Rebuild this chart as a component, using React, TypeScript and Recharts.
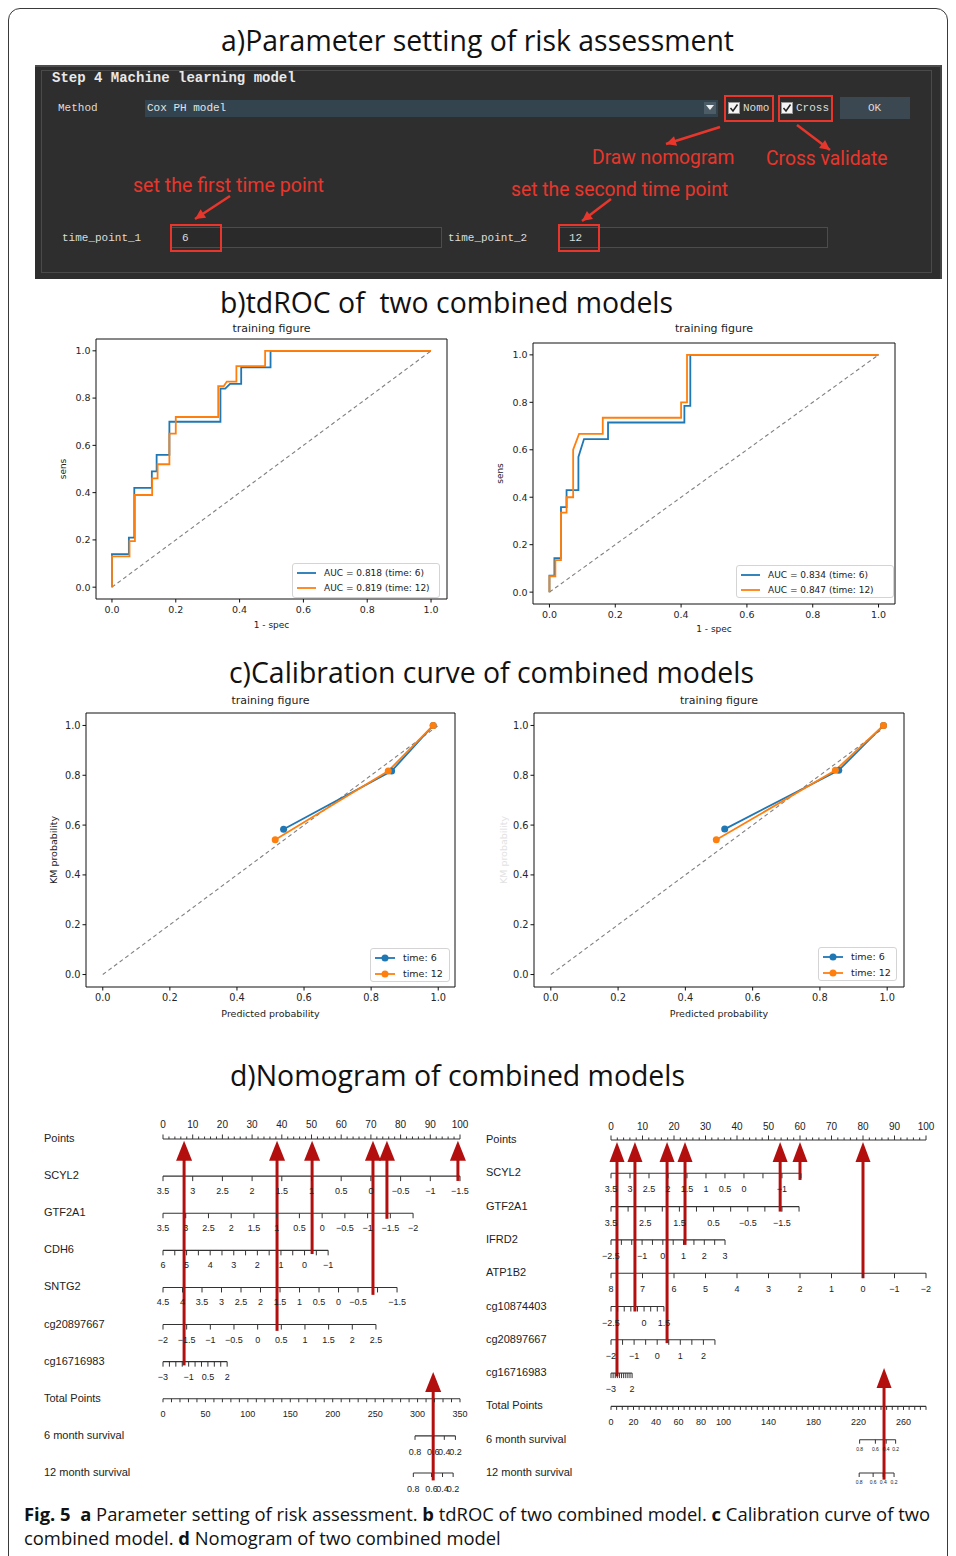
import React from "react";
import { ComposedChart, LineChart, Line, Scatter, XAxis, YAxis, Legend, ReferenceLine } from "recharts";

// ---------- b) tdROC, corners of the step curves as [1 - spec, sens] ----------
const rocLeftTime6 = [[0, 0], [0, 0.14], [0.053, 0.14], [0.053, 0.21], [0.07, 0.21], [0.07, 0.42], [0.125, 0.42], [0.125, 0.49], [0.14, 0.49], [0.14, 0.56], [0.18, 0.56], [0.18, 0.7], [0.34, 0.7], [0.34, 0.84], [0.355, 0.84], [0.37, 0.86], [0.405, 0.86], [0.405, 0.93], [0.497, 0.93], [0.497, 1], [1, 1]];
const rocLeftTime12 = [[0, 0], [0, 0.13], [0.055, 0.13], [0.055, 0.195], [0.072, 0.195], [0.072, 0.39], [0.126, 0.39], [0.126, 0.46], [0.143, 0.46], [0.143, 0.52], [0.18, 0.52], [0.18, 0.65], [0.2, 0.65], [0.2, 0.72], [0.333, 0.72], [0.333, 0.85], [0.35, 0.85], [0.36, 0.87], [0.39, 0.87], [0.39, 0.935], [0.48, 0.935], [0.48, 1], [1, 1]];
const rocRightTime6 = [[0, 0], [0, 0.07], [0.015, 0.07], [0.015, 0.143], [0.035, 0.143], [0.035, 0.358], [0.052, 0.358], [0.052, 0.43], [0.088, 0.43], [0.088, 0.57], [0.105, 0.645], [0.178, 0.645], [0.178, 0.715], [0.41, 0.715], [0.41, 0.785], [0.428, 0.785], [0.428, 1], [1, 1]];
const rocRightTime12 = [[0, 0], [0, 0.067], [0.018, 0.067], [0.018, 0.135], [0.035, 0.135], [0.035, 0.335], [0.052, 0.335], [0.052, 0.4], [0.072, 0.4], [0.072, 0.6], [0.09, 0.667], [0.162, 0.667], [0.162, 0.735], [0.4, 0.735], [0.4, 0.8], [0.418, 0.8], [0.418, 1], [1, 1]];
const rocLeftAuc = ["AUC = 0.818 (time: 6)", "AUC = 0.819 (time: 12)"];
const rocRightAuc = ["AUC = 0.834 (time: 6)", "AUC = 0.847 (time: 12)"];

// ---------- c) calibration, [predicted, KM] ----------
const calLeftTime6 = [[0.539, 0.583], [0.861, 0.817], [0.985, 1]];
const calLeftTime12 = [[0.514, 0.541], [0.851, 0.817], [0.985, 1]];
const calRightTime6 = [[0.517, 0.584], [0.856, 0.82], [0.989, 1]];
const calRightTime12 = [[0.492, 0.541], [0.846, 0.82], [0.989, 1]];
const calLegend = ["time: 6", "time: 12"];

const unitTicks = [0, 0.2, 0.4, 0.6, 0.8, 1];
const refDiagonal = [[0, 0], [1, 1]];

// ---------- d) nomograms ----------
const pointsLabels = [0, 10, 20, 30, 40, 50, 60, 70, 80, 90, 100];

const nomoLeftRows = ["Points", "SCYL2", "GTF2A1", "CDH6", "SNTG2", "cg20897667", "cg16716983", "Total Points", "6 month survival", "12 month survival"];
const nomoLeftVars = [
  { row: 1, from: 3.5, to: -1.5, end: 100, ticks: [3.5, 3, 2.5, 2, 1.5, 1, 0.5, 0, -0.5, -1, -1.5], labels: [3.5, 3, 2.5, 2, 1.5, 1, 0.5, 0, -0.5, -1, -1.5] },
  { row: 2, from: 3.5, to: -2, end: 84.2, ticks: [3.5, 3, 2.5, 2, 1.5, 1, 0.5, 0, -0.5, -1, -1.5, -2], labels: [3.5, 3, 2.5, 2, 1.5, 1, 0.5, 0, -0.5, -1, -1.5, -2] },
  { row: 3, from: 6, to: -1, end: 55.6, ticks: [6, 5.5, 5, 4.5, 4, 3.5, 3, 2.5, 2, 1.5, 1, 0.5, 0, -0.5, -1], labels: [6, 5, 4, 3, 2, 1, 0, -1] },
  { row: 4, from: 4.5, to: -1.5, end: 78.8, ticks: [4.5, 4, 3.5, 3, 2.5, 2, 1.5, 1, 0.5, 0, -0.5, -1, -1.5], labels: [4.5, 4, 3.5, 3, 2.5, 2, 1.5, 1, 0.5, 0, -0.5, -1.5] },
  { row: 5, from: -2, to: 2.5, end: 71.7, ticks: [-2, -1.5, -1, -0.5, 0, 0.5, 1, 1.5, 2, 2.5], labels: [-2, -1.5, -1, -0.5, 0, 0.5, 1, 1.5, 2, 2.5] },
  { row: 6, from: -3, to: 2, end: 21.6, ticks: [-3, -2.5, -2, -1.5, -1, -0.5, 0, 0.5, 1, 1.5, 2], labels: [-3, -1, 0.5, 2] },
];
const nomoLeftTotalLabels = [0, 50, 100, 150, 200, 250, 300, 350];
const nomoLeftSurv6 = [[0.8, 297], [0.6, 318.6], [0.4, 331.5], [0.2, 344.6]];
const nomoLeftSurv12 = [[0.8, 295], [0.6, 316.5], [0.4, 329.4], [0.2, 341.9]];
const nomoLeftArrows = [[7.1, 6.1], [38.4, 5.17], [50.2, 3.1], [70.7, 4.2], [75.4, 2.15], [99.3, 1.13]];
const nomoLeftTotalArrow = [318.4, 9.2, 6.28];

const nomoRightRows = ["Points", "SCYL2", "GTF2A1", "IFRD2", "ATP1B2", "cg10874403", "cg20897667", "cg16716983", "Total Points", "6 month survival", "12 month survival"];
const nomoRightVars = [
  { row: 1, from: 3.5, to: -1.5, end: 60.3, ticks: [3.5, 3, 2.5, 2, 1.5, 1, 0.5, 0, -0.5, -1, -1.5], labels: [3.5, 3, 2.5, 2, 1.5, 1, 0.5, 0, -1] },
  { row: 2, from: 3.5, to: -2, end: 59.7, ticks: [3.5, 3, 2.5, 2, 1.5, 1, 0.5, 0, -0.5, -1, -1.5, -2], labels: [3.5, 2.5, 1.5, 0.5, -0.5, -1.5] },
  { row: 3, from: -2.5, to: 3, end: 36.2, ticks: [-2.5, -2, -1.5, -1, -0.5, 0, 0.5, 1, 1.5, 2, 2.5, 3], labels: [-2.5, -1, 0, 1, 2, 3] },
  { row: 4, from: 8, to: -2, end: 100, ticks: [8, 7, 6, 5, 4, 3, 2, 1, 0, -1, -2], labels: [8, 7, 6, 5, 4, 3, 2, 1, 0, -1, -2] },
  { row: 5, from: -2.5, to: 1.5, end: 16.8, ticks: [-2.5, -2, -1.5, -1, -0.5, 0, 0.5, 1, 1.5], labels: [-2.5, 0, 1.5] },
  { row: 6, from: -2, to: 2.5, end: 33, ticks: [-2, -1.5, -1, -0.5, 0, 0.5, 1, 1.5, 2, 2.5], labels: [-2, -1, 0, 1, 2] },
  { row: 7, from: -3, to: 2, end: 6.7, ticks: [-3, -2.5, -2, -1.5, -1, -0.5, 0, 0.5, 1, 1.5, 2], labels: [-3, 2] },
];
const nomoRightTotalLabels = [0, 20, 40, 60, 80, 100, 140, 180, 220, 260];
const nomoRightSurv6 = [[0.8, 221], [0.6, 235], [0.4, 244.6], [0.2, 253]];
const nomoRightSurv12 = [[0.8, 220.6], [0.6, 233], [0.4, 242], [0.2, 251.6]];
const nomoRightArrows = [[1.9, 7.1], [7.6, 5.15], [17.8, 6.1], [23.5, 3.15], [53.7, 2.15], [60, 1.2], [80, 4.15]];
const nomoRightTotalArrow = [242.7, 10.2, 6.85];

const BLUE = "#1f77b4";
const ORANGE = "#ff7f0e";
const ARROW_RED = "#b30f0f";
const ANNOT_RED = "#e8362c";
const INK = "#333";
const FONT_MPL = '"DejaVu Sans", sans-serif';
const FONT_R = '"Liberation Sans", Arial, sans-serif';
const FONT_TITLE = '"Open Sans", sans-serif';
const FONT_MONO = '"Liberation Mono", monospace';

const toXY = (arr: number[][]) => arr.map(([x, y]) => ({ x, y }));
const fmtTick = (v: number) => v.toFixed(1);
const fmtNomo = (v: number) => (v < 0 ? "\u2212" + Math.abs(v) : String(v));

type Box = { left: number; top: number; width: number; height: number };

function SideLabel(props: any) {
  const { viewBox, value, dx, color, fontSize } = props;
  if (!viewBox) return null;
  const x = viewBox.x + dx;
  const y = viewBox.y + viewBox.height / 2;
  return (
    <text x={x} y={y} transform={`rotate(-90 ${x} ${y})`} textAnchor="middle" dominantBaseline="central" fontSize={fontSize} fontFamily={FONT_MPL} fill={color}>
      {value}
    </text>
  );
}

function BottomLabel(props: any) {
  const { viewBox, value, dy, fontSize } = props;
  if (!viewBox) return null;
  return (
    <text x={viewBox.x + viewBox.width / 2} y={viewBox.y + dy} textAnchor="middle" dominantBaseline="central" fontSize={fontSize} fontFamily={FONT_MPL} fill="#222">
      {value}
    </text>
  );
}

function LegendBox({ entries, dots, fontSize, textX, rows }: { entries: { name: string; color: string }[]; dots: boolean; fontSize: number; textX: number; rows: number[] }) {
  return (
    <div style={{ position: "relative", width: "100%", height: "100%", boxSizing: "border-box", border: "1px solid #d4d4d4", borderRadius: 3, background: "rgba(255,255,255,0.85)" }}>
      {entries.map((e, i) => (
        <div key={i} style={{ position: "absolute", left: 0, top: rows[i] - 7, height: 14, width: "100%" }}>
          <svg width={textX} height={14} style={{ position: "absolute", left: 0, top: 0 }}>
            <line x1={4} x2={textX - 8} y1={7} y2={7} stroke={e.color} strokeWidth={1.8} />
            {dots && <circle cx={(textX - 4) / 2} cy={7} r={3.5} fill={e.color} />}
          </svg>
          <span style={{ position: "absolute", left: textX, top: 0, lineHeight: "14px", fontSize, fontFamily: FONT_MPL, color: "#222", whiteSpace: "nowrap" }}>{e.name}</span>
        </div>
      ))}
    </div>
  );
}

interface CurveProps {
  box: Box;
  plot: { left: number; right: number; top: number; bottom: number };
  title: string;
  titleY: number;
  xLabel: string;
  yLabel: string;
  yLabelColor: string;
  xLabelY: number;
  yLabelX: number;
  series: { name: string; color: string; data: number[][] }[];
  dots: boolean;
  legend: Box;
  legendRows: number[];
  legendTextX: number;
  tickFont: number;
  labelFont: number;
  legendFont: number;
}

function CurvePanel(p: CurveProps) {
  const { box, plot } = p;
  const mTop = plot.top - box.top;
  const mRight = box.left + box.width - plot.right;
  const yW = plot.left - box.left;
  const xH = box.top + box.height - plot.bottom;
  const dom: [number, number] = [-0.05, 1.05];
  const tickStyle = { fontSize: p.tickFont, fill: "#262626", fontFamily: FONT_MPL };
  return (
    <div style={{ position: "absolute", left: box.left, top: box.top, width: box.width, height: box.height }}>
      <div style={{ position: "absolute", left: yW, width: plot.right - plot.left, top: p.titleY - box.top - 8, height: 16, lineHeight: "16px", textAlign: "center", fontSize: 11, fontFamily: FONT_MPL, color: "#222" }}>{p.title}</div>
      <LineChart width={box.width} height={box.height} margin={{ top: mTop, right: mRight, bottom: 0, left: 0 }}>
        <XAxis type="number" dataKey="x" domain={dom} ticks={unitTicks} interval={0} tickFormatter={fmtTick} allowDataOverflow height={xH} tickSize={3.5} tickMargin={4} tick={tickStyle} axisLine={{ stroke: "#111" }} tickLine={{ stroke: "#111" }} label={<BottomLabel value={p.xLabel} dy={p.xLabelY - plot.bottom} fontSize={p.labelFont} />} />
        <YAxis type="number" dataKey="y" domain={dom} ticks={unitTicks} interval={0} tickFormatter={fmtTick} allowDataOverflow width={yW} tickSize={3.5} tickMargin={2} tick={tickStyle} axisLine={{ stroke: "#111" }} tickLine={{ stroke: "#111" }} label={<SideLabel value={p.yLabel} dx={p.yLabelX - box.left} color={p.yLabelColor} fontSize={p.labelFont} />} />
        <ReferenceLine y={dom[1]} stroke="#111" strokeWidth={1} />
        <ReferenceLine x={dom[1]} stroke="#111" strokeWidth={1} />
        <Line data={toXY(refDiagonal)} dataKey="y" stroke="#808080" strokeWidth={1.1} strokeDasharray="4 3" dot={false} activeDot={false} isAnimationActive={false} legendType="none" />
        {p.series.map((s) => (
          <Line key={s.name} data={toXY(s.data)} dataKey="y" name={s.name} type="linear" stroke={s.color} strokeWidth={1.8} dot={p.dots ? { r: 3.5, fill: s.color, stroke: s.color, strokeWidth: 0 } : false} activeDot={false} isAnimationActive={false} />
        ))}
        <Legend
          layout="vertical"
          verticalAlign="middle"
          align="center"
          wrapperStyle={{ left: p.legend.left - box.left, top: p.legend.top - box.top, width: p.legend.width, height: p.legend.height, margin: 0, padding: 0 }}
          content={() => <LegendBox entries={p.series} dots={p.dots} fontSize={p.legendFont} textX={p.legendTextX} rows={p.legendRows} />}
        />
      </LineChart>
    </div>
  );
}

type VarRow = { row: number; from: number; to: number; end: number; ticks: number[]; labels: number[] };

interface NomoProps {
  box: Box;
  plotLeft: number;
  plotRight: number;
  rowFirst: number;
  rowLast: number;
  names: string[];
  nameX: number;
  vars: VarRow[];
  totalMax: number;
  totalStep: number;
  totalLabels: number[];
  surv: number[][][];
  arrows: number[][];
  tipRow: number;
  totalArrow: number[];
  pointsFs: number;
  tickFs: number;
  survFs: number;
  survDy: number;
  belowDy: number;
  aboveDy: number;
  head: [number, number];
}

function TickShape(props: any) {
  const { cx, cy } = props;
  const d = props.payload ?? props;
  if (cx == null || cy == null) return null;
  return (
    <g>
      <line x1={cx} x2={cx} y1={cy} y2={cy + d.dir * d.len} stroke={INK} strokeWidth={1} />
      {d.label !== undefined && (
        <text x={cx} y={cy + d.dy} textAnchor="middle" dominantBaseline="central" fontSize={d.fs} fontFamily={FONT_R} fill="#222">
          {d.label}
        </text>
      )}
    </g>
  );
}

function Nomogram(p: NomoProps) {
  const { box } = p;
  const n = p.names.length;
  const totalRow = n - 3;
  const yW = p.plotLeft - box.left;
  // half a row of room above the first and below the last row, so nothing is clipped
  const perRow = (p.rowLast - p.rowFirst) / (n - 1);
  const mTop = p.rowFirst - box.top - perRow / 2;
  const mRight = box.left + box.width - p.plotRight;
  const mBottom = box.top + box.height - p.rowLast - perRow / 2;
  const rowIdx = p.names.map((_, i) => i);

  const ptTicks: any[] = [];
  for (let v = 0; v <= 100; v += 2) {
    const lab = pointsLabels.includes(v);
    ptTicks.push({ x: v, y: 0, dir: -1, len: lab ? 4.5 : 2.5, label: lab ? String(v) : undefined, dy: -p.aboveDy, fs: p.pointsFs });
  }
  const rowLines: { axis: string; data: { x: number; y: number }[] }[] = [{ axis: "pts", data: [{ x: 0, y: 0 }, { x: 100, y: 0 }] }];
  p.vars.forEach((v) => {
    const pos = (val: number) => ((val - v.from) / (v.to - v.from)) * v.end;
    rowLines.push({ axis: "pts", data: [{ x: 0, y: v.row }, { x: v.end, y: v.row }] });
    v.ticks.forEach((t) => ptTicks.push({ x: pos(t), y: v.row, dir: 1, len: 5, label: v.labels.includes(t) ? fmtNomo(t) : undefined, dy: p.belowDy, fs: p.tickFs }));
  });

  const totTicks: any[] = [];
  for (let v = 0; v <= p.totalMax; v += p.totalStep) {
    const lab = p.totalLabels.includes(v);
    totTicks.push({ x: v, y: totalRow, dir: 1, len: 3.5, label: lab ? String(v) : undefined, dy: p.belowDy, fs: p.tickFs });
  }
  rowLines.push({ axis: "tot", data: [{ x: 0, y: totalRow }, { x: p.totalMax, y: totalRow }] });
  p.surv.forEach((marks, k) => {
    const row = totalRow + 1 + k;
    rowLines.push({ axis: "tot", data: [{ x: marks[0][1], y: row }, { x: marks[marks.length - 1][1], y: row }] });
    marks.forEach(([prob, tot]) => totTicks.push({ x: tot, y: row, dir: 1, len: 4, label: String(prob), dy: p.survDy, fs: p.survFs }));
  });

  const heads = p.arrows.map(([x]) => ({ x, y: p.tipRow }));
  const [tx, tFrom, tTip] = p.totalArrow;

  const RowName = (props: any) => (
    <text x={p.nameX} y={props.y - 1} textAnchor="start" dominantBaseline="central" fontSize={11} fontFamily={FONT_R} fill="#222">
      {p.names[props.payload.value]}
    </text>
  );
  const Head = (props: any) => {
    const { cx, cy } = props;
    if (cx == null || cy == null) return null;
    const [hw, hh] = p.head;
    return <polygon points={`${cx},${cy} ${cx - hw},${cy + hh} ${cx + hw},${cy + hh}`} fill={ARROW_RED} />;
  };

  return (
    <div style={{ position: "absolute", left: box.left, top: box.top, width: box.width, height: box.height }}>
      <ComposedChart width={box.width} height={box.height} margin={{ top: mTop, right: mRight, bottom: mBottom, left: 0 }}>
        <XAxis xAxisId="pts" type="number" dataKey="x" domain={[0, 100]} hide />
        <XAxis xAxisId="tot" type="number" dataKey="x" domain={[0, p.totalMax]} hide />
        <YAxis yAxisId="row" type="number" dataKey="y" domain={[-0.5, n - 0.5]} reversed ticks={rowIdx} interval={0} width={yW} axisLine={false} tickLine={false} tick={(props: any) => <RowName {...props} />} />
        {rowLines.map((r, i) => (
          <Line key={"row" + i} xAxisId={r.axis} yAxisId="row" data={r.data} dataKey="y" stroke={INK} strokeWidth={1.1} dot={false} activeDot={false} isAnimationActive={false} />
        ))}
        <Scatter xAxisId="pts" yAxisId="row" data={ptTicks} shape={(props: any) => <TickShape {...props} />} isAnimationActive={false} />
        <Scatter xAxisId="tot" yAxisId="row" data={totTicks} shape={(props: any) => <TickShape {...props} />} isAnimationActive={false} />
        {p.arrows.map(([x, from], i) => (
          <Line key={"arrow" + i} xAxisId="pts" yAxisId="row" data={[{ x, y: from }, { x, y: p.tipRow + 0.3 }]} dataKey="y" stroke={ARROW_RED} strokeWidth={3} dot={false} activeDot={false} isAnimationActive={false} />
        ))}
        <Line xAxisId="tot" yAxisId="row" data={[{ x: tx, y: tFrom }, { x: tx, y: tTip + 0.3 }]} dataKey="y" stroke={ARROW_RED} strokeWidth={3} dot={false} activeDot={false} isAnimationActive={false} />
        <Scatter xAxisId="pts" yAxisId="row" data={heads} shape={(props: any) => <Head {...props} />} isAnimationActive={false} />
        <Scatter xAxisId="tot" yAxisId="row" data={[{ x: tx, y: tTip }]} shape={(props: any) => <Head {...props} />} isAnimationActive={false} />
      </ComposedChart>
    </div>
  );
}

function Txt({ x, y, size, font, color, bold, children }: { x: number; y: number; size: number; font: string; color: string; bold?: boolean; children: React.ReactNode }) {
  const lh = Math.round(size * 1.3);
  return (
    <div style={{ position: "absolute", left: x, top: y - lh / 2, lineHeight: lh + "px", fontSize: size, fontFamily: font, color, fontWeight: bold ? 700 : 400, whiteSpace: "pre" }}>{children}</div>
  );
}

function headPoints(x1: number, y1: number, x2: number, y2: number, len: number, half: number) {
  const dx = x2 - x1, dy = y2 - y1;
  const L = Math.hypot(dx, dy);
  const ux = dx / L, uy = dy / L;
  const bx = x2 - ux * len, by = y2 - uy * len;
  return `${x2},${y2} ${bx - uy * half},${by + ux * half} ${bx + uy * half},${by - ux * half}`;
}

function Checkbox({ x, y }: { x: number; y: number }) {
  return (
    <svg style={{ position: "absolute", left: x, top: y }} width={12} height={12}>
      <rect x={0.5} y={0.5} width={11} height={11} fill="#f4f4f4" stroke="#999" />
      <path d="M2.5 6 L5 9 L9.5 2.5" stroke="#222" strokeWidth={1.5} fill="none" />
    </svg>
  );
}

function RedBox({ x, y, w, h }: { x: number; y: number; w: number; h: number }) {
  return <div style={{ position: "absolute", left: x, top: y, width: w, height: h, border: `2px solid ${ANNOT_RED}`, boxSizing: "border-box" }} />;
}

function GuiPanel() {
  const guiText = "#dcdcdc";
  const annot: [number, number, number, number][] = [[720, 127, 666, 144], [797, 125, 830, 150], [230, 196, 195, 219], [611, 199, 582, 221]];
  return (
    <>
      <div style={{ position: "absolute", left: 35, top: 65, width: 907, height: 214, background: "#2e2e2e", borderTop: "2px solid #4d4d4d", borderRight: "2px solid #444", boxSizing: "border-box" }} />
      <div style={{ position: "absolute", left: 41, top: 70, width: 891, height: 203, border: "1px solid #4a4a4a", boxSizing: "border-box" }} />
      <Txt x={52} y={78} size={14} font={FONT_MONO} color="#e8e8e8" bold>Step 4 Machine learning model</Txt>
      <Txt x={58} y={108} size={11} font={FONT_MONO} color={guiText}>Method</Txt>
      <div style={{ position: "absolute", left: 145, top: 100, width: 573, height: 17, background: "#34444e" }} />
      <Txt x={147} y={108} size={11} font={FONT_MONO} color="#e4e4e4">Cox PH model</Txt>
      <div style={{ position: "absolute", left: 704, top: 102, width: 12, height: 12, background: "#4d5d67" }} />
      <svg style={{ position: "absolute", left: 706, top: 105 }} width={8} height={6}><polygon points="0,0 8,0 4,5" fill="#eee" /></svg>
      <Checkbox x={728} y={102} />
      <Txt x={743} y={108} size={11} font={FONT_MONO} color={guiText}>Nomo</Txt>
      <Checkbox x={781} y={102} />
      <Txt x={796} y={108} size={11} font={FONT_MONO} color={guiText}>Cross</Txt>
      <div style={{ position: "absolute", left: 840, top: 97, width: 70, height: 22, background: "#3b4852" }} />
      <Txt x={868} y={108} size={11} font={FONT_MONO} color={guiText}>OK</Txt>
      <RedBox x={724} y={95} w={50} h={27} />
      <RedBox x={778} y={95} w={55} h={27} />

      <Txt x={62} y={238} size={11} font={FONT_MONO} color={guiText}>time_point_1</Txt>
      <div style={{ position: "absolute", left: 170, top: 227, width: 272, height: 21, border: "1px solid #4c4c4c", background: "#2a2a2a", boxSizing: "border-box" }} />
      <Txt x={182} y={238} size={11} font={FONT_MONO} color={guiText}>6</Txt>
      <Txt x={448} y={238} size={11} font={FONT_MONO} color={guiText}>time_point_2</Txt>
      <div style={{ position: "absolute", left: 558, top: 227, width: 270, height: 21, border: "1px solid #4c4c4c", background: "#2a2a2a", boxSizing: "border-box" }} />
      <Txt x={569} y={238} size={11} font={FONT_MONO} color={guiText}>12</Txt>
      <RedBox x={170} y={224} w={52} h={28} />
      <RedBox x={558} y={224} w={42} h={28} />

      <Txt x={592} y={157} size={19.3} font="Roboto, sans-serif" color={ANNOT_RED}>Draw nomogram</Txt>
      <Txt x={766} y={158} size={19.3} font="Roboto, sans-serif" color={ANNOT_RED}>Cross validate</Txt>
      <Txt x={133} y={185} size={19.6} font="Roboto, sans-serif" color={ANNOT_RED}>set the first time point</Txt>
      <Txt x={511} y={189} size={19.3} font="Roboto, sans-serif" color={ANNOT_RED}>set the second time point</Txt>
      <svg style={{ position: "absolute", left: 0, top: 0 }} width={956} height={300}>
        {annot.map(([x1, y1, x2, y2], i) => (
          <g key={i}>
            <line x1={x1} y1={y1} x2={x2} y2={y2} stroke={ANNOT_RED} strokeWidth={2.5} />
            <polygon points={headPoints(x1, y1, x2, y2, 10, 5)} fill={ANNOT_RED} />
          </g>
        ))}
      </svg>
    </>
  );
}

function SectionTitle({ x, y, children }: { x: number; y: number; children: React.ReactNode }) {
  return (
    <div style={{ position: "absolute", left: x, top: y - 20, lineHeight: "40px", fontSize: 28.4, fontFamily: FONT_TITLE, color: "#111", whiteSpace: "pre" }}>{children}</div>
  );
}

export default function App() {
  const rocLegendRows = [9, 24];
  const calLegendRows = [9, 25];
  return (
    <div style={{ position: "absolute", left: 0, top: 0, width: 956, height: 1556, background: "#fff", overflow: "hidden" }}>
      <div style={{ position: "absolute", left: 8, top: 8, width: 940, height: 1600, border: "1.3px solid #3a3a3a", borderRadius: 12, boxSizing: "border-box" }} />

      <SectionTitle x={221} y={40}>a)Parameter setting of risk assessment</SectionTitle>
      <GuiPanel />

      <SectionTitle x={220} y={302}>b)tdROC of  two combined models</SectionTitle>
      <CurvePanel
        box={{ left: 50, top: 320, width: 410, height: 320 }}
        plot={{ left: 96, right: 447, top: 339, bottom: 599 }}
        title="training figure" titleY={329}
        xLabel="1 - spec" yLabel="sens" yLabelColor="#222" xLabelY={625} yLabelX={63}
        series={[{ name: rocLeftAuc[0], color: BLUE, data: rocLeftTime6 }, { name: rocLeftAuc[1], color: ORANGE, data: rocLeftTime12 }]}
        dots={false}
        legend={{ left: 292, top: 563, width: 148, height: 35 }} legendRows={rocLegendRows} legendTextX={31}
        tickFont={9.5} labelFont={9} legendFont={9}
      />
      <CurvePanel
        box={{ left: 490, top: 320, width: 410, height: 320 }}
        plot={{ left: 533, right: 895, top: 343, bottom: 604 }}
        title="training figure" titleY={329}
        xLabel="1 - spec" yLabel="sens" yLabelColor="#222" xLabelY={629} yLabelX={500}
        series={[{ name: rocRightAuc[0], color: BLUE, data: rocRightTime6 }, { name: rocRightAuc[1], color: ORANGE, data: rocRightTime12 }]}
        dots={false}
        legend={{ left: 736, top: 565, width: 158, height: 33 }} legendRows={rocLegendRows} legendTextX={31}
        tickFont={9.5} labelFont={9} legendFont={9}
      />

      <SectionTitle x={229} y={672}>c)Calibration curve of combined models</SectionTitle>
      <CurvePanel
        box={{ left: 40, top: 690, width: 420, height: 330 }}
        plot={{ left: 86, right: 455, top: 713, bottom: 987 }}
        title="training figure" titleY={701}
        xLabel="Predicted probability" yLabel="KM probability" yLabelColor="#222" xLabelY={1013} yLabelX={53}
        series={[{ name: calLegend[0], color: BLUE, data: calLeftTime6 }, { name: calLegend[1], color: ORANGE, data: calLeftTime12 }]}
        dots
        legend={{ left: 370, top: 948, width: 80, height: 34 }} legendRows={calLegendRows} legendTextX={32}
        tickFont={9.8} labelFont={9.5} legendFont={9.5}
      />
      <CurvePanel
        box={{ left: 490, top: 690, width: 420, height: 330 }}
        plot={{ left: 534, right: 904, top: 713, bottom: 987 }}
        title="training figure" titleY={701}
        xLabel="Predicted probability" yLabel="KM probability" yLabelColor="#e2e2e2" xLabelY={1013} yLabelX={503}
        series={[{ name: calLegend[0], color: BLUE, data: calRightTime6 }, { name: calLegend[1], color: ORANGE, data: calRightTime12 }]}
        dots
        legend={{ left: 818, top: 947, width: 79, height: 34 }} legendRows={calLegendRows} legendTextX={32}
        tickFont={9.8} labelFont={9.5} legendFont={9.5}
      />

      <SectionTitle x={230} y={1075}>d)Nomogram of combined models</SectionTitle>
      <Nomogram
        box={{ left: 30, top: 1100, width: 450, height: 400 }}
        plotLeft={163} plotRight={460} rowFirst={1139} rowLast={1473}
        names={nomoLeftRows} nameX={14}
        vars={nomoLeftVars} totalMax={350} totalStep={10} totalLabels={nomoLeftTotalLabels}
        surv={[nomoLeftSurv6, nomoLeftSurv12]}
        arrows={nomoLeftArrows} tipRow={0.05} totalArrow={nomoLeftTotalArrow}
        pointsFs={10} tickFs={9} survFs={9} survDy={16} belowDy={15} aboveDy={15}
        head={[8, 20]}
      />
      <Nomogram
        box={{ left: 480, top: 1100, width: 460, height: 400 }}
        plotLeft={611} plotRight={926} rowFirst={1140} rowLast={1473}
        names={nomoRightRows} nameX={6}
        vars={nomoRightVars} totalMax={280} totalStep={5} totalLabels={nomoRightTotalLabels}
        surv={[nomoRightSurv6, nomoRightSurv12]}
        arrows={nomoRightArrows} tipRow={0.06} totalArrow={nomoRightTotalArrow}
        pointsFs={10} tickFs={9} survFs={5} survDy={9} belowDy={16} aboveDy={14}
        head={[7.5, 20]}
      />

      <div style={{ position: "absolute", left: 24, top: 1502, width: 925, fontSize: 18.4, lineHeight: "24px", fontFamily: FONT_TITLE, color: "#111", whiteSpace: "nowrap" }}>
        <b>Fig. 5</b>&nbsp;&nbsp;<b>a</b> Parameter setting of risk assessment. <b>b</b> tdROC of two combined model. <b>c</b> Calibration curve of two
        <br />
        combined model. <b>d</b> Nomogram of two combined model
      </div>
    </div>
  );
}
